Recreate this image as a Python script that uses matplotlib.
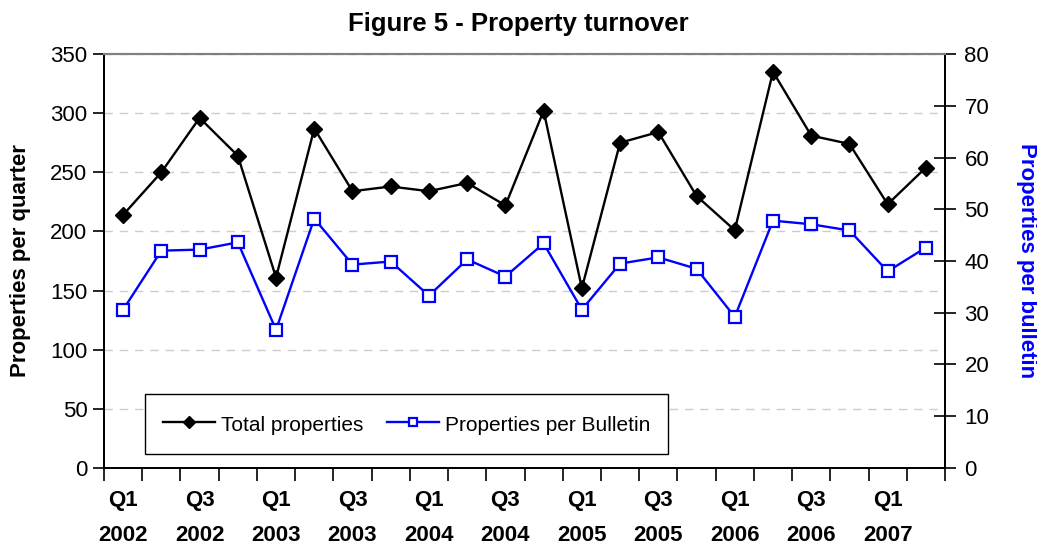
import matplotlib
matplotlib.use('Agg')
from matplotlib import pyplot as plt
from matplotlib.ticker import MultipleLocator, FixedLocator
import numpy as np

plt.rcParams['font.family'] = ['Liberation Sans', 'DejaVu Sans']

quarters = ['Q1\n2002', 'Q2\n2002', 'Q3\n2002', 'Q4\n2002',
            'Q1\n2003', 'Q2\n2003', 'Q3\n2003', 'Q4\n2003',
            'Q1\n2004', 'Q2\n2004', 'Q3\n2004', 'Q4\n2004',
            'Q1\n2005', 'Q2\n2005', 'Q3\n2005', 'Q4\n2005',
            'Q1\n2006', 'Q2\n2006', 'Q3\n2006', 'Q4\n2006',
            'Q1\n2007', 'Q2\n2007']
total_properties = [214, 250, 296, 264, 161, 287, 234, 238, 234, 241, 222, 302,
                    152, 275, 284, 230, 201, 335, 281, 274, 223, 254]
per_bulletin = [30.6, 42.0, 42.2, 43.6, 26.7, 48.2, 39.3, 39.9, 33.3, 40.3, 37.0, 43.4,
                30.6, 39.5, 40.7, 38.5, 29.2, 47.8, 47.1, 45.9, 38.0, 42.6]

x = np.arange(len(quarters))

fig = plt.figure(figsize=(10.37, 5.45), dpi=100)
ax = fig.add_axes([0.1003, 0.1413, 0.9113 - 0.1003, 0.9009 - 0.1413])
ax2 = ax.twinx()

l1, = ax.plot(x, total_properties, color='black', lw=1.7, marker='D', ms=8.5,
              mfc='black', mec='black', label='Total properties', zorder=3)
l2, = ax2.plot(x, per_bulletin, color='#0000ff', lw=1.7, marker='s', ms=8,
               mfc='white', mec='#0000ff', mew=1.6, label='Properties per Bulletin', zorder=3)

ax.set_xlim(-0.5, len(quarters) - 0.5)
ax.set_ylim(0, 350)
ax2.set_ylim(0, 80)

ax.yaxis.set_major_locator(MultipleLocator(50))
ax2.yaxis.set_major_locator(MultipleLocator(10))
ax.grid(axis='y', color='#cccccc', linestyle=(0, (6, 5)), lw=1)
ax.set_axisbelow(True)

ax.set_xticks(x[::2], [quarters[i] for i in x[::2]], fontsize=16, fontweight='bold')
ax.xaxis.set_minor_locator(FixedLocator(np.arange(-0.5, len(quarters), 1)))
ax.tick_params(axis='x', which='major', length=0, pad=16)
ax.tick_params(axis='x', which='minor', length=9, direction='out', width=1.2)
ax.tick_params(axis='y', labelsize=16, length=8, width=1.2, direction='out', pad=4)
ax2.tick_params(axis='y', labelsize=16, length=16, width=1.2, direction='inout', pad=6)
for lab in ax.get_xticklabels():
    lab.set_linespacing(1.85)

for a in (ax, ax2):
    a.spines['top'].set_color('#808080')
    a.spines['top'].set_linewidth(1.5)
    for s in ('left', 'right', 'bottom'):
        a.spines[s].set_linewidth(1.3)

ax.set_ylabel('Properties per quarter', fontsize=16, fontweight='bold', labelpad=14)
ax2.set_ylabel('Properties per bulletin', fontsize=16, fontweight='bold',
               color='#0000ff', rotation=270, labelpad=34)

fig.suptitle('Figure 5 - Property turnover', fontsize=18.5, fontweight='bold', y=0.978)

leg = ax2.legend(handles=[l1, l2], loc='lower left', bbox_to_anchor=(0.049, 0.034),
                 ncol=2, fontsize=15, frameon=True, fancybox=False, framealpha=1,
                 edgecolor='black', handlelength=2.5, handleheight=1.4, markerscale=0.75,
                 columnspacing=1.1, handletextpad=0.3, borderpad=0.85,
                 borderaxespad=0)
leg.get_frame().set_linewidth(1.0)

plt.savefig('out.png', dpi=100)
